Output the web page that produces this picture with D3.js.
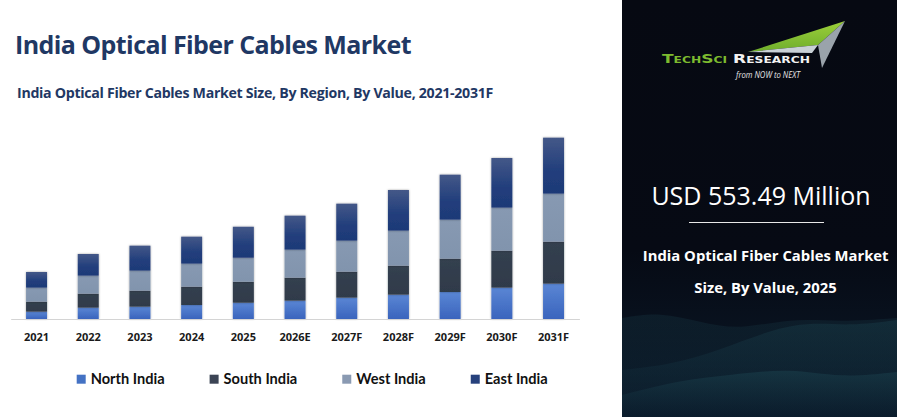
<!DOCTYPE html>
<html>
<head>
<meta charset="utf-8">
<script src="https://cdn.jsdelivr.net/npm/d3@7"></script>
<style>
    body { margin: 0; background: #ffffff; }
    svg { display: block; font-family: "Open Sans", sans-serif; }
</style>
</head>
<body>
<svg id="chart"></svg>
<script>
// values in USD million
var years = ["2021", "2022", "2023", "2024", "2025", "2026E", "2027F", "2028F", "2029F", "2030F", "2031F"];
var northIndia = [44, 68, 74, 84, 97.6, 110, 128, 146, 162, 188, 212];
var southIndia = [60, 84, 96, 110, 125.8, 138, 156, 174, 200, 222, 252];
var westIndia  = [84, 108, 120, 138, 144, 168, 186, 210, 234, 258, 288];
var eastIndia  = [94, 130, 150, 162, 186.1, 204, 222, 244, 270, 298, 336];
var seriesNames = ["North India", "South India", "West India", "East India"];

var width = 897;
var height = 417;
var panelLeft = 622;
var baseY = 319;

var svg = d3.select("#chart")
            .attr("width", width)
            .attr("height", height);

var defs = svg.append("defs");

var addGradient = function(id, stops) {
    var g = defs.append("linearGradient")
                .attr("id", id)
                .attr("x1", 0).attr("y1", 0)
                .attr("x2", 0).attr("y2", 1);
    stops.forEach(function(s) {
        g.append("stop").attr("offset", s[0]).attr("stop-color", s[1]);
    });
};

addGradient("gNorth", [[0, "#5a86d4"], [1, "#3a64bd"]]);
addGradient("gSouth", [[0, "#34404f"], [1, "#2f3a4a"]]);
addGradient("gWest",  [[0, "#8799b2"], [1, "#8194ad"]]);
addGradient("gEast",  [[0, "#445888"], [0.6, "#213e7c"], [1, "#1e3977"]]);
addGradient("gPanel", [[0, "#060912"], [0.6, "#060a14"], [1, "#0b1a2a"]]);
addGradient("gWave",  [[0, "#1c4450"], [1, "#0b1c2c"]]);
addGradient("gLogoGreen", [[0, "#9ccf3a"], [1, "#6fae2c"]]);

var shadow = defs.append("filter")
                 .attr("id", "barShadow")
                 .attr("x", "-30%").attr("y", "-10%")
                 .attr("width", "160%").attr("height", "120%");
shadow.append("feDropShadow")
      .attr("dx", 0).attr("dy", 0)
      .attr("stdDeviation", 1.3)
      .attr("flood-color", "#000")
      .attr("flood-opacity", 0.35);

var fills = ["url(#gNorth)", "url(#gSouth)", "url(#gWest)", "url(#gEast)"];
var swatches = ["#4472c4", "#3b4454", "#8a9ab2", "#26417c"];

// squeeze a text to a target width with letter spacing
var fitWidth = function(sel, target) {
    var n = sel.text().length;
    var w = sel.node().getComputedTextLength();
    sel.attr("letter-spacing", ((target - w) / n).toFixed(3));
};

// titles
svg.append("text")
   .attr("x", 15).attr("y", 54)
   .attr("fill", "#1f3864")
   .attr("font-weight", 700)
   .attr("font-size", 25)
   .text("India Optical Fiber Cables Market")
   .call(fitWidth, 396);

svg.append("text")
   .attr("x", 17).attr("y", 97.5)
   .attr("fill", "#1f3864")
   .attr("font-weight", 700)
   .attr("font-size", 14.2)
   .text("India Optical Fiber Cables Market Size, By Region, By Value, 2021-2031F")
   .call(fitWidth, 476);

// scales
var x = d3.scaleBand()
          .domain(years)
          .range([10.7, 579.4])
          .paddingInner(0.594)
          .paddingOuter(0.297);

var y = d3.scaleLinear()
          .domain([0, 1200])
          .range([baseY, baseY - 200]);

var rows = years.map(function(yr, i) {
    return {
        year: yr,
        "North India": northIndia[i],
        "South India": southIndia[i],
        "West India": westIndia[i],
        "East India": eastIndia[i]
    };
});

var stacked = d3.stack().keys(seriesNames)(rows);

var layers = svg.selectAll("g.layer")
                .data(stacked)
                .enter()
                .append("g")
                .attr("class", "layer")
                .attr("filter", "url(#barShadow)")
                .attr("fill", function(d, i) { return fills[i]; });

layers.selectAll("rect")
      .data(function(d) { return d; })
      .enter()
      .append("rect")
      .attr("x", function(d) { return x(d.data.year); })
      .attr("width", x.bandwidth())
      .attr("y", function(d) { return y(d[1]); })
      .attr("height", function(d) { return y(d[0]) - y(d[1]); });

// x axis
var axis = svg.append("g")
              .attr("transform", "translate(0," + baseY + ")")
              .call(d3.axisBottom(x).tickSize(0).tickSizeOuter(0));

axis.select(".domain").attr("stroke", "#d4d4d4");
axis.selectAll("text")
    .attr("y", 21.5)
    .attr("dy", 0)
    .attr("fill", "#1a1a1a")
    .attr("font-family", "'Open Sans', sans-serif")
    .attr("font-weight", 700)
    .attr("font-size", 11);

// legend
var legend = svg.append("g").attr("class", "legend");
var lx = 76.7;
seriesNames.forEach(function(name, i) {
    legend.append("rect")
          .attr("x", lx).attr("y", 374.7)
          .attr("width", 9).attr("height", 9)
          .attr("fill", swatches[i]);
    var t = legend.append("text")
                  .attr("x", lx + 14).attr("y", 384)
                  .attr("fill", "#111")
                  .attr("font-family", "Lato, sans-serif")
                  .attr("font-weight", 700)
                  .attr("font-size", 14.6)
                  .text(name);
    lx += 14 + t.node().getComputedTextLength() + 45;
});

// right panel
var panel = svg.append("g");
panel.append("rect")
     .attr("x", panelLeft).attr("y", 0)
     .attr("width", width - panelLeft).attr("height", height)
     .attr("fill", "url(#gPanel)");

// decorative waves at the bottom of the panel
var waves = [
    [[622, 318], [660, 312], [700, 322], [740, 330], [790, 318], [840, 322], [897, 318]],
    [[622, 370], [670, 365], [720, 350], [770, 330], [810, 322], [850, 326], [897, 320]],
    [[622, 395], [680, 380], [730, 375], [790, 368], [840, 378], [897, 372]]
];
var waveLine = d3.area()
                 .x(function(d) { return d[0]; })
                 .y0(height)
                 .y1(function(d) { return d[1]; })
                 .curve(d3.curveBasis);
panel.selectAll("path.wave")
     .data(waves)
     .enter()
     .append("path")
     .attr("class", "wave")
     .attr("d", waveLine)
     .attr("fill", "url(#gWave)")
     .attr("opacity", function(d, i) { return 0.25 + i * 0.12; });

// logo
var logo = panel.append("g");
logo.append("path")
    .attr("d", "M748,52 L845,21 L818,45 Z")
    .attr("fill", "url(#gLogoGreen)");
logo.append("path")
    .attr("d", "M818,45 L845,21 L822,68 Z")
    .attr("fill", "#9aa3ab");
logo.append("path")
    .attr("d", "M748,52 L818,45 L812,53 Z")
    .attr("fill", "#c8d0d6");
logo.append("text")
    .attr("x", 662).attr("y", 63)
    .attr("font-family", "'DejaVu Sans', sans-serif")
    .attr("font-weight", 700)
    .attr("font-size", 12.5)
    .style("font-variant", "small-caps")
    .attr("textLength", 148)
    .attr("lengthAdjust", "spacingAndGlyphs")
    .call(function(t) {
        t.append("tspan").attr("fill", "#7dbb2f").text("TechSci ");
        t.append("tspan").attr("fill", "#f2f2f2").text("Research");
    });
logo.append("text")
    .attr("x", 736).attr("y", 77.5)
    .attr("fill", "#e6e6e6")
    .attr("font-style", "italic")
    .attr("font-size", 9)
    .attr("textLength", 64)
    .attr("lengthAdjust", "spacingAndGlyphs")
    .text("from NOW to NEXT");

panel.append("text")
     .attr("x", 761).attr("y", 205)
     .attr("text-anchor", "middle")
     .attr("fill", "#ffffff")
     .attr("font-size", 25)
     .text("USD 553.49 Million");

panel.append("line")
     .attr("x1", 689).attr("x2", 824)
     .attr("y1", 222.5).attr("y2", 222.5)
     .attr("stroke", "#e8e8e8")
     .attr("stroke-width", 1);

panel.append("text")
     .attr("x", 765.7).attr("y", 260.7)
     .attr("text-anchor", "middle")
     .attr("fill", "#ffffff")
     .attr("font-weight", 700)
     .attr("font-size", 14.8)
     .text("India Optical Fiber Cables Market");

panel.append("text")
     .attr("x", 765.5).attr("y", 293.3)
     .attr("text-anchor", "middle")
     .attr("fill", "#ffffff")
     .attr("font-weight", 700)
     .attr("font-size", 14.8)
     .text("Size, By Value, 2025");
</script>
</body>
</html>
